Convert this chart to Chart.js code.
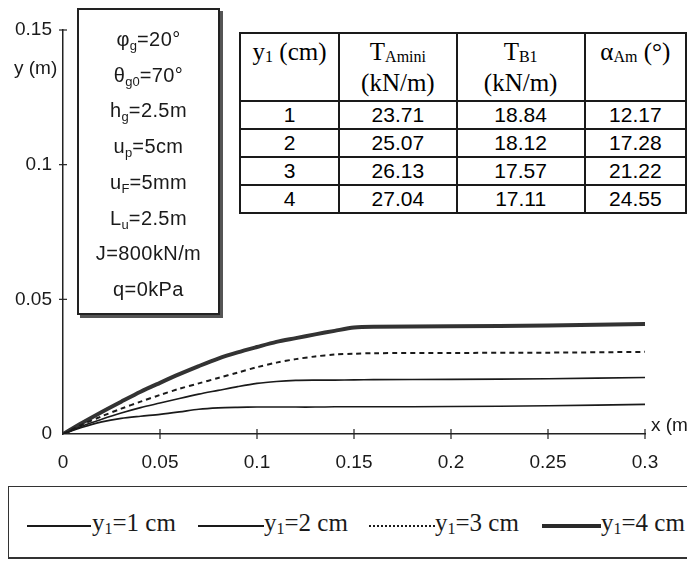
<!DOCTYPE html>
<html>
<head>
<meta charset="utf-8">
<script src="https://cdn.jsdelivr.net/npm/chart.js@4.4.1/dist/chart.umd.min.js"></script>
<style>
  html, body { margin:0; padding:0; background:#fff; }
  #wrap { position:relative; width:687px; height:562px; overflow:hidden; background:#fff; }
  #c { position:absolute; left:0; top:0; }
  .sans { font-family:"Liberation Sans", Arial, sans-serif; color:#1a1a1a; }
  .serif { font-family:"Liberation Serif", "Times New Roman", serif; color:#1a1a1a; }
  #params { position:absolute; left:77px; top:8px; width:139px; height:303px; border:2px solid #222;
            box-shadow:3px 3px 0 #555; background:#fff; }
  #params div { position:absolute; left:0; width:100%; text-align:center; font-size:20px; letter-spacing:0.4px; line-height:20px; }
  #params sub { font-size:13px; vertical-align:-4px; line-height:0; letter-spacing:0; }
  #tbl { position:absolute; left:239px; top:32px; border-collapse:collapse; background:#fff; }
  #tbl td { border:2px solid #1a1a1a; padding:0; text-align:center; }
  #tbl td.h { font-family:"Liberation Serif","Times New Roman",serif; font-size:25px; line-height:31px; vertical-align:top; padding-top:2px; }
  #tbl td.h sub { font-size:16px; vertical-align:-2px; line-height:0; }
  #tbl td.n { font-family:"Liberation Sans", Arial, sans-serif; font-size:21px; height:26px; line-height:24px; }
  #legend { position:absolute; left:8px; top:486px; width:700px; height:70px; border:1px solid #333; border-bottom:2px solid #333; background:#fff; }
  .li { position:absolute; top:22px; font-size:25px; white-space:nowrap; }
  .li sub { font-size:16px; vertical-align:-3px; line-height:0; }
  .ln { position:absolute; top:38px; height:0; }
  .lab { position:absolute; font-size:19px; white-space:nowrap; }
</style>
</head>
<body>
<div id="wrap">
  <canvas id="c" width="687" height="562"></canvas>
  <div class="lab sans" style="left:14px;top:57px;">y (m)</div>
  <div class="lab sans" style="left:651px;top:414px;">x (m)</div>
  <div id="params" class="sans"></div>
  <table id="tbl"></table>
  <div id="legend" class="serif"></div>
</div>
<script>
// ---- data ----
const xValues = [0, 0.01, 0.02, 0.03, 0.04, 0.05, 0.06, 0.07, 0.08, 0.09, 0.10, 0.11, 0.12, 0.13, 0.14, 0.15, 0.16, 0.20, 0.25, 0.30];
const y1cm = [0, 0.0025, 0.0045, 0.0058, 0.0066, 0.0073, 0.0082, 0.0092, 0.0097, 0.0099, 0.0100, 0.0100, 0.0100, 0.0100, 0.0101, 0.0101, 0.0101, 0.0102, 0.0105, 0.0110];
const y2cm = [0, 0.0030, 0.0055, 0.0078, 0.0098, 0.0115, 0.0132, 0.0148, 0.0162, 0.0176, 0.0188, 0.0195, 0.0199, 0.0200, 0.0200, 0.0201, 0.0202, 0.0203, 0.0205, 0.0210];
const y3cm = [0, 0.0035, 0.0066, 0.0094, 0.0120, 0.0145, 0.0168, 0.0188, 0.0208, 0.0228, 0.0248, 0.0265, 0.0278, 0.0288, 0.0295, 0.0298, 0.0300, 0.0301, 0.0302, 0.0305];
const y4cm = [0, 0.0042, 0.0082, 0.0120, 0.0157, 0.0190, 0.0222, 0.0252, 0.0280, 0.0303, 0.0323, 0.0342, 0.0356, 0.0370, 0.0383, 0.0395, 0.0398, 0.0400, 0.0403, 0.0408];
const seriesNames = ["y<sub>1</sub>=1 cm", "y<sub>1</sub>=2 cm", "y<sub>1</sub>=3 cm", "y<sub>1</sub>=4 cm"];
const xTickValues = [0, 0.05, 0.1, 0.15, 0.2, 0.25, 0.3];
const xTickLabels = ["0", "0.05", "0.1", "0.15", "0.2", "0.25", "0.3"];
const yTickValues = [0, 0.05, 0.1, 0.15];
const yTickLabels = ["0", "0.05", "0.1", "0.15"];
const params = ["&phi;<sub>g</sub>=20°", "&theta;<sub>g0</sub>=70°", "h<sub>g</sub>=2.5m", "u<sub>p</sub>=5cm", "u<sub>F</sub>=5mm", "L<sub>u</sub>=2.5m", "J=800kN/m", "q=0kPa"];
const tableHeader = ["y<sub>1</sub> (cm)", "T<sub>Amini</sub><br>(kN/m)", "T<sub>B1</sub><br>(kN/m)", "&alpha;<sub>Am</sub> (°)"];
const tableY1 = ["1", "2", "3", "4"];
const tableTAmini = ["23.71", "25.07", "26.13", "27.04"];
const tableTB1 = ["18.84", "18.12", "17.57", "17.11"];
const tableAlpha = ["12.17", "17.28", "21.22", "24.55"];

// ---- parameter box ----
const pBox = document.getElementById('params');
params.forEach((p, i) => {
  const d = document.createElement('div');
  d.innerHTML = p;
  d.style.top = (19 + i * 35.7) + 'px';
  pBox.appendChild(d);
});

// ---- table ----
const colW = [99, 117, 128, 101];
const tbl = document.getElementById('tbl');
let html = '<tr>' + tableHeader.map((h, i) => `<td class="h" style="width:${colW[i]}px;height:64px">${h}</td>`).join('') + '</tr>';
for (let r = 0; r < tableY1.length; r++) {
  html += `<tr><td class="n">${tableY1[r]}</td><td class="n">${tableTAmini[r]}</td><td class="n">${tableTB1[r]}</td><td class="n">${tableAlpha[r]}</td></tr>`;
}
tbl.innerHTML = html;

// ---- legend ----
const legendSamples = [
  {x: 18, w: 64, style: '2px solid #1a1a1a'},
  {x: 189, w: 66, style: '2px solid #1a1a1a'},
  {x: 360, w: 66, style: '2px dotted #1a1a1a'},
  {x: 533, w: 59, style: '4px solid #2a2a2a'}
];
const legendTextX = [83, 255, 426, 592];
const lg = document.getElementById('legend');
seriesNames.forEach((n, i) => {
  const s = document.createElement('div');
  s.className = 'ln';
  s.style.left = legendSamples[i].x + 'px';
  s.style.width = legendSamples[i].w + 'px';
  s.style.borderTop = legendSamples[i].style;
  if (i === 3) s.style.top = '37px';
  lg.appendChild(s);
  const t = document.createElement('div');
  t.className = 'li';
  t.style.left = legendTextX[i] + 'px';
  t.innerHTML = n;
  lg.appendChild(t);
});

// ---- chart ----
const toPts = ys => xValues.map((x, i) => ({x, y: ys[i]}));
const crossTicks = {
  id: 'crossTicks',
  afterDraw(chart) {
    const {ctx, scales: {x, y}} = chart;
    ctx.save();
    ctx.strokeStyle = '#222';
    ctx.lineWidth = 1.2;
    const y0 = y.getPixelForValue(0), x0 = x.getPixelForValue(0);
    xTickValues.forEach(v => {
      if (v === 0) return;
      const px = x.getPixelForValue(v);
      ctx.beginPath(); ctx.moveTo(px, y0 - 5); ctx.lineTo(px, y0 + 5); ctx.stroke();
    });
    yTickValues.forEach(v => {
      if (v === 0) return;
      const py = y.getPixelForValue(v);
      ctx.beginPath(); ctx.moveTo(x0 - 4, py); ctx.lineTo(x0 + 4, py); ctx.stroke();
    });
    ctx.restore();
  }
};

new Chart(document.getElementById('c'), {
  type: 'scatter',
  data: {
    datasets: [
      {label: 'y1=1 cm', data: toPts(y1cm), showLine: true, borderColor: '#1a1a1a', borderWidth: 1.6, pointRadius: 0, tension: 0.3},
      {label: 'y1=2 cm', data: toPts(y2cm), showLine: true, borderColor: '#1a1a1a', borderWidth: 1.6, pointRadius: 0, tension: 0.3},
      {label: 'y1=3 cm', data: toPts(y3cm), showLine: true, borderColor: '#1a1a1a', borderWidth: 2, borderDash: [5, 4], pointRadius: 0, tension: 0.3},
      {label: 'y1=4 cm', data: toPts(y4cm), showLine: true, borderColor: '#333', borderWidth: 4, pointRadius: 0, tension: 0.3}
    ]
  },
  options: {
    responsive: false,
    animation: false,
    layout: {padding: {left: 0, top: 30, right: 42, bottom: 83}},
    plugins: {legend: {display: false}, tooltip: {enabled: false}},
    scales: {
      x: {
        type: 'linear', min: 0, max: 0.3,
        afterFit: s => { s.height = 45; },
        afterBuildTicks: s => { s.ticks = xTickValues.map(v => ({value: v})); },
        ticks: {
          callback: (v, i) => xTickLabels[i],
          color: '#1a1a1a', padding: 17, maxRotation: 0, autoSkip: false,
          font: {family: '"Liberation Sans", Arial, sans-serif', size: 19}
        },
        grid: {display: false, drawTicks: false},
        border: {display: true, color: '#222', width: 1.5}
      },
      y: {
        type: 'linear', min: 0, max: 0.15,
        afterFit: s => { s.width = 63; },
        afterBuildTicks: s => { s.ticks = yTickValues.map(v => ({value: v})); },
        ticks: {
          callback: (v, i) => yTickLabels[i],
          color: '#1a1a1a', padding: 11, autoSkip: false,
          font: {family: '"Liberation Sans", Arial, sans-serif', size: 19}
        },
        grid: {display: false, drawTicks: false},
        border: {display: true, color: '#222', width: 1.5}
      }
    }
  },
  plugins: [crossTicks]
});
</script>
</body>
</html>
